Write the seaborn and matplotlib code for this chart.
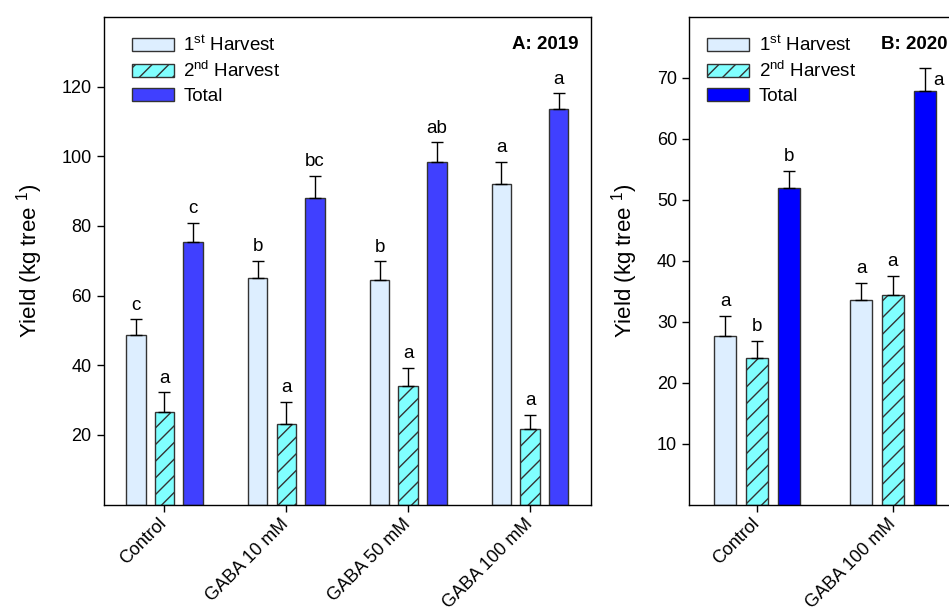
import numpy as np
import pandas as pd
import matplotlib
matplotlib.use("Agg")
import matplotlib.pyplot as plt
from matplotlib.patches import Patch
import seaborn as sns

# ------------------------------------------------------------------
# Data
# ------------------------------------------------------------------
HARVESTS = ["1st", "2nd", "Total"]

treatments_a = ["Control", "GABA 10 mM", "GABA 50 mM", "GABA 100 mM"]
first_a = [48.6, 65.0, 64.6, 92.0]
first_a_err = [4.6, 5.0, 5.2, 6.4]
second_a = [26.7, 23.0, 34.0, 21.6]
second_a_err = [5.5, 6.4, 5.3, 4.1]
total_a = [75.3, 87.9, 98.5, 113.5]
total_a_err = [5.6, 6.5, 5.5, 4.6]
letters_a = [["c", "b", "b", "a"], ["a", "a", "a", "a"], ["c", "bc", "ab", "a"]]

treatments_b = ["Control", "GABA 100 mM"]
first_b = [27.6, 33.6]
first_b_err = [3.3, 2.8]
second_b = [24.1, 34.3]
second_b_err = [2.7, 3.2]
total_b = [51.9, 67.9]
total_b_err = [2.9, 3.7]
letters_b = [["a", "a"], ["b", "a"], ["b", "a"]]

yticks_a = [20, 40, 60, 80, 100, 120]
yticks_b = [10, 20, 30, 40, 50, 60, 70]

LIGHT = "#DDEEFF"
CYAN = "#80FFFF"
BLUE_A = "#4040FF"
BLUE_B = "#0000FF"
EDGE = "#333333"

# ------------------------------------------------------------------
# Style
# ------------------------------------------------------------------
sns.set_style("ticks")
plt.rcParams["font.family"] = ["Liberation Sans", "DejaVu Sans"]
plt.rcParams["mathtext.fontset"] = "custom"
plt.rcParams["mathtext.rm"] = "Liberation Sans"
plt.rcParams["mathtext.it"] = "Liberation Sans:italic"
plt.rcParams["hatch.linewidth"] = 1.0
for key in ["text.color", "axes.labelcolor", "xtick.color", "ytick.color",
            "axes.edgecolor"]:
    plt.rcParams[key] = "black"


def long_table(treatments, first, second, total):
    rows = []
    for name, vals in zip(HARVESTS, [first, second, total]):
        for t, v in zip(treatments, vals):
            rows.append({"treatment": t, "harvest": name, "yield": v})
    return pd.DataFrame(rows)


def draw_panel(ax, treatments, values, errors, letters, total_color,
               ylim, yticks, title, title_x, legend_x, side_last=False):
    df = long_table(treatments, *values)
    palette = {"1st": LIGHT, "2nd": CYAN, "Total": total_color}
    sns.barplot(data=df, x="treatment", y="yield", hue="harvest",
                hue_order=HARVESTS, order=treatments, palette=palette,
                width=0.705, gap=0.32, errorbar=None, edgecolor=EDGE,
                linewidth=1, saturation=1, legend=False, ax=ax, zorder=2)

    bar_groups = list(ax.containers)[:3]
    for patch in bar_groups[1]:
        patch.set_hatch("//")

    for k, cont in enumerate(bar_groups):
        xs = np.array([p.get_x() + p.get_width() / 2 for p in cont])
        tops = np.array([p.get_height() for p in cont])
        errs = np.array(errors[k])
        ax.errorbar(xs, tops, yerr=[np.zeros_like(errs), errs], fmt="none",
                    ecolor="black", elinewidth=1, capsize=4.5, capthick=1,
                    zorder=3)
        for i, (x, t, e) in enumerate(zip(xs, tops, errs)):
            if side_last and k == 2 and i == len(xs) - 1:
                ax.annotate(letters[k][i], (x, t + e), xytext=(6, -3),
                            textcoords="offset points", ha="left",
                            va="top", fontsize=13.5)
            else:
                ax.annotate(letters[k][i], (x, t + e), xytext=(0, 7),
                            textcoords="offset points", ha="center",
                            va="baseline", fontsize=13.5)

    ax.set_xlim(-0.5, len(treatments) - 0.5)
    ax.set_ylim(*ylim)
    ax.set_yticks(yticks)
    ax.set_xticks(range(len(treatments)))
    ax.set_xticklabels(treatments, rotation=45, ha="right", va="center",
                       rotation_mode="anchor", fontsize=13)
    ax.tick_params(axis="y", labelsize=13, length=5, width=1, direction="out")
    ax.tick_params(axis="x", length=5, width=1, direction="out", pad=7)
    ax.set_xlabel("")
    ax.set_ylabel(r"Yield (kg tree $^{1}$)", fontsize=16, labelpad=12)
    for sp in ax.spines.values():
        sp.set_visible(True)
        sp.set_color("black")
        sp.set_linewidth(1)

    handles = [
        Patch(facecolor=LIGHT, edgecolor=EDGE, label=r"1$^{\mathrm{st}}$ Harvest"),
        Patch(facecolor=CYAN, edgecolor=EDGE, hatch="//", label=r"2$^{\mathrm{nd}}$ Harvest"),
        Patch(facecolor=total_color, edgecolor=EDGE, label="Total"),
    ]
    ax.legend(handles=handles, loc="upper left", bbox_to_anchor=(legend_x, 0.963),
              frameon=False, fontsize=13.5, borderaxespad=0, borderpad=0,
              handlelength=2.25, handleheight=0.7, handletextpad=0.5,
              labelspacing=0.36)
    ax.text(title_x, 0.943, title, transform=ax.transAxes, ha="right",
            va="center", fontsize=13.5, fontweight="bold")


fig = plt.figure(figsize=(9.49, 6.15), dpi=100)
ax_a = fig.add_axes([103.5 / 949, 110.5 / 615, 487.5 / 949, 487.5 / 615])
ax_b = fig.add_axes([689 / 949, 110.5 / 615, 272 / 949, 487.5 / 615])

draw_panel(ax_a, treatments_a, [first_a, second_a, total_a],
           [first_a_err, second_a_err, total_a_err], letters_a, BLUE_A,
           (0, 140), yticks_a, "A: 2019", 0.975, 0.058)
draw_panel(ax_b, treatments_b, [first_b, second_b, total_b],
           [first_b_err, second_b_err, total_b_err], letters_b, BLUE_B,
           (0, 80), yticks_b, "B: 2020", 0.952, 0.066, side_last=True)

fig.savefig("out.png", dpi=100)
